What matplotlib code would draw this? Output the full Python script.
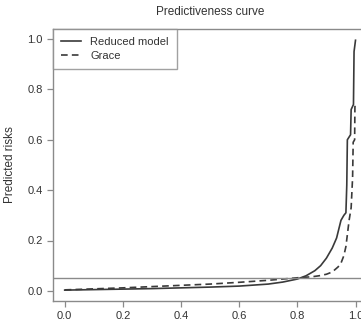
import matplotlib
matplotlib.use("Agg")
import matplotlib.pyplot as plt

plt.rcParams['font.family'] = ['Liberation Sans', 'DejaVu Sans']

# predictiveness curves
reduced_x = [0.0, 0.1, 0.2, 0.3, 0.4, 0.5, 0.6, 0.7, 0.75, 0.8, 0.83, 0.86, 0.88, 0.9,
             0.92, 0.935, 0.95, 0.96, 0.967, 0.97, 0.972, 0.983, 0.985, 0.993, 0.995, 1.0]
reduced_y = [0.003, 0.005, 0.007, 0.009, 0.012, 0.015, 0.019, 0.027, 0.035, 0.047, 0.06, 0.08,
             0.10, 0.13, 0.17, 0.21, 0.28, 0.30, 0.31, 0.42, 0.60, 0.62, 0.72, 0.74, 0.95, 0.995]

grace_x = [0.0, 0.1, 0.2, 0.3, 0.4, 0.5, 0.6, 0.7, 0.75, 0.8, 0.85, 0.875, 0.9, 0.92, 0.94,
           0.95, 0.96, 0.967, 0.978, 0.985, 0.99, 0.992, 0.997, 0.998, 1.0]
grace_y = [0.004, 0.008, 0.012, 0.017, 0.022, 0.027, 0.034, 0.042, 0.047, 0.052, 0.056, 0.06,
           0.066, 0.075, 0.095, 0.11, 0.14, 0.176, 0.28, 0.33, 0.45, 0.59, 0.60, 0.73, 0.75]

prevalence = 0.052

x_ticks = [0.0, 0.2, 0.4, 0.6, 0.8, 1.0]
y_ticks = [0.0, 0.2, 0.4, 0.6, 0.8, 1.0]

line_col = '#3a3a3a'
frame_col = '#8a8a8a'
text_col = '#333333'

fig = plt.figure(figsize=(3.61, 3.25), dpi=100)
ax = fig.add_axes([0.147, 0.074, 0.87, 0.837])

ax.plot(reduced_x, reduced_y, color=line_col, lw=1.2, label='Reduced model')
ax.plot(grace_x, grace_y, color=line_col, lw=1.2, ls=(0, (4, 2.5)), label='Grace')
ax.axhline(prevalence, color=frame_col, lw=1.0)

ax.set_xlim(-0.04, 1.04)
ax.set_ylim(-0.04, 1.04)
ax.set_xticks(x_ticks)
ax.set_yticks(y_ticks)
ax.set_xticklabels([f'{t:.1f}' for t in x_ticks])
ax.set_yticklabels([f'{t:.1f}' for t in y_ticks])

for s in ax.spines.values():
    s.set_color(frame_col)
    s.set_linewidth(1.0)
ax.tick_params(direction='out', length=4.5, width=0.9, color=frame_col,
               labelsize=8, labelcolor=text_col, pad=3)

ax.set_title('Predictiveness curve', fontsize=8.5, color=text_col, pad=10)
ax.set_ylabel('Predicted risks', fontsize=8.5, color=text_col, labelpad=8)

leg = ax.legend(loc='upper left', fontsize=8, frameon=True, fancybox=False,
                borderaxespad=0, handlelength=1.8, labelspacing=0.35,
                borderpad=0.75, handletextpad=0.8)
leg.get_frame().set_edgecolor(frame_col)
leg.get_frame().set_linewidth(1.0)
for t in leg.get_texts():
    t.set_color(text_col)

fig.savefig('out.png', dpi=100)
